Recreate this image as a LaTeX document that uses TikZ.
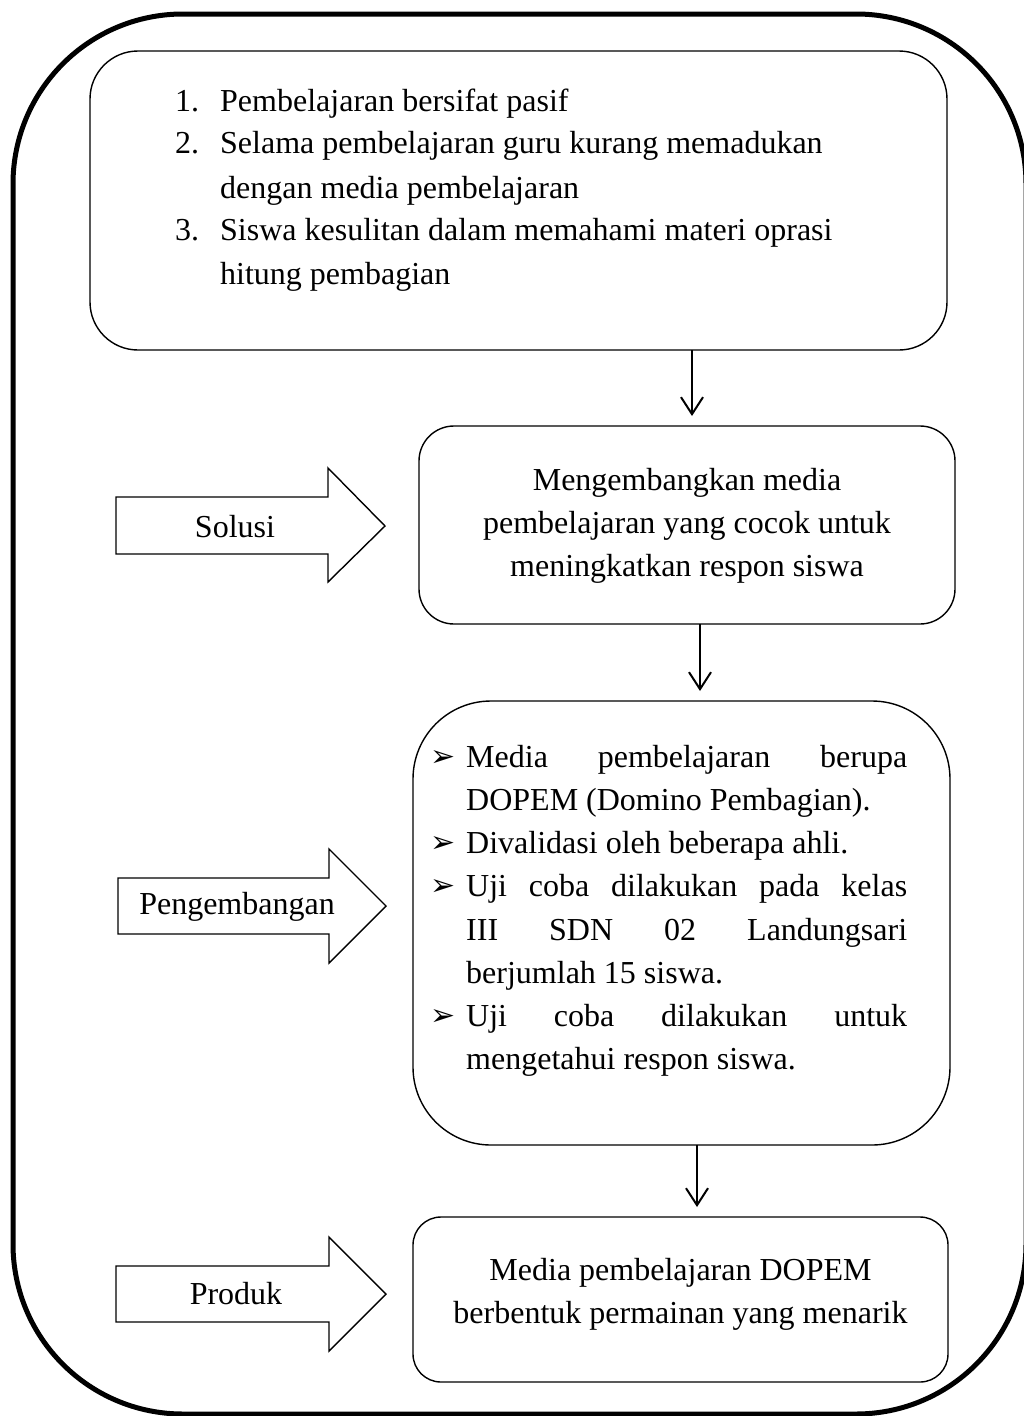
\documentclass[tikz,border=0pt]{standalone}
\usepackage{fontspec}
\setmainfont{Liberation Serif}
\newfontfamily\symfont{DejaVu Sans}
\usetikzlibrary{arrows.meta}

\tikzset{
  frame/.style={draw, line width=5pt, rounded corners=170pt},
  stage/.style={draw, line width=1.4pt, inner sep=0pt, outer sep=0pt},
  flow/.style={line width=2pt, -{Straight Barb[length=17pt,width=22pt]}, shorten >=10pt},
  sidearrow/.style={draw, line width=1.4pt, line join=miter},
  txt/.style={inner sep=0pt, font=\fontsize{32}{43}\selectfont},
  line/.style={txt, anchor=base west},
  bul/.style={inner sep=0pt, anchor=base west, font=\symfont\fontsize{30}{36}\selectfont},
}
\newcommand{\jline}[1]{\makebox[441pt][s]{#1}}

\begin{document}
\begin{tikzpicture}[x=1pt,y=-1pt]
\useasboundingbox (0,0) rectangle (1023,1416);

% outer frame
\draw[frame] (13,14) rectangle (1026,1414);

% stage boxes
\node[stage, rounded corners=48pt, minimum width=857pt, minimum height=299pt] (b1) at (518.5,200.5) {};
\node[stage, rounded corners=35pt, minimum width=536pt, minimum height=198pt] (b2) at (687,525) {};
\node[stage, rounded corners=78pt, minimum width=537pt, minimum height=444pt] (b3) at (681.5,923) {};
\node[stage, rounded corners=28pt, minimum width=535pt, minimum height=165pt] (b4) at (680.5,1299.5) {};

% problems
\node[line] (n1) at (175,111) {1.};
\node[line] (t1) at (220,111) {Pembelajaran bersifat pasif};
\node[line] (n2) at (175,153) {2.};
\node[line] (t2) at (220,153) {Selama pembelajaran guru kurang memadukan};
\node[line] (t2b) at (220,198) {dengan media pembelajaran};
\node[line] (n3) at (175,240) {3.};
\node[line] (t3) at (220,240) {Siswa kesulitan dalam memahami materi oprasi};
\node[line] (t3b) at (220,284) {hitung pembagian};

% solution
\node[txt, align=center] (s) at (687,526) {Mengembangkan media\\pembelajaran yang cocok untuk\\meningkatkan respon siswa};

% development
\node[bul] (k1) at (430,766) {➢};
\node[line] (d1) at (466,767) {\jline{Media\hfill pembelajaran\hfill berupa}};
\node[line] (d1b) at (466,810) {DOPEM (Domino Pembagian).};
\node[bul] (k2) at (430,852) {➢};
\node[line] (d2) at (466,853) {Divalidasi oleh beberapa ahli.};
\node[bul] (k3) at (430,895) {➢};
\node[line] (d3) at (466,896) {\jline{Uji\hfill coba\hfill dilakukan\hfill pada\hfill kelas}};
\node[line] (d3b) at (466,940) {\jline{III\hfill SDN\hfill 02\hfill Landungsari}};
\node[line] (d3c) at (466,983) {berjumlah 15 siswa.};
\node[bul] (k4) at (430,1025) {➢};
\node[line] (d4) at (466,1026) {\jline{Uji\hfill coba\hfill dilakukan\hfill untuk}};
\node[line] (d4b) at (466,1069) {mengetahui respon siswa.};

% product
\node[txt, align=center] (p) at (680.5,1294) {Media pembelajaran DOPEM\\berbentuk permainan yang menarik};

% downward connectors
\coordinate (c1) at (692,0);
\coordinate (c2) at (700,0);
\coordinate (c3) at (697,0);
\draw[flow] (b1.south -| c1) -- (b2.north -| c1);
\draw[flow] (b2.south -| c2) -- (b3.north -| c2);
\draw[flow] (b3.south -| c3) -- (b4.north -| c3);

% side block arrows
\draw[sidearrow] (116,497) -- (328,497) -- (328,468) -- (385,526) -- (328,582) -- (328,554) -- (116,554) -- cycle;
\node[txt] (l1) at (235,527) {Solusi};
\draw[sidearrow] (118,878) -- (329,878) -- (329,849) -- (386,906) -- (329,963) -- (329,934) -- (118,934) -- cycle;
\node[txt] (l2) at (237,907) {Pengembangan};
\draw[sidearrow] (116,1266) -- (329,1266) -- (329,1237) -- (386,1294) -- (329,1351) -- (329,1322) -- (116,1322) -- cycle;
\node[txt] (l3) at (236,1294) {Produk};
\end{tikzpicture}
\end{document}
